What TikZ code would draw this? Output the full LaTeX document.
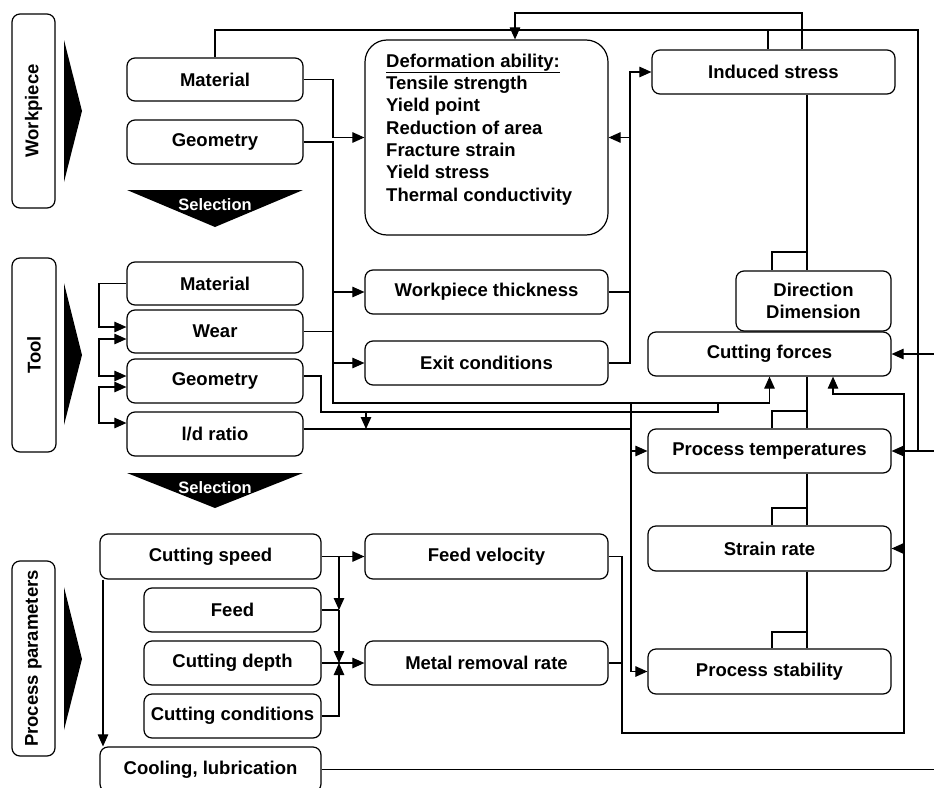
\documentclass[tikz,border=0pt]{standalone}
\usepackage{fontspec}
\setmainfont{Liberation Sans}
\usetikzlibrary{arrows.meta}
\begin{document}
\begin{tikzpicture}[x=1pt,y=-1pt]
\tikzset{
 box/.style={draw, line width=1.2pt, rounded corners=8pt, fill=white, inner sep=0pt,
   font=\bfseries\fontsize{18.5}{22.4}\selectfont, align=center},
 ln/.style={line width=1.1pt},
 arr/.style={ln, -{Triangle[length=12pt,width=10.5pt]}},
 arrb/.style={ln, {Triangle[length=12pt,width=10.5pt]}-{Triangle[length=12pt,width=10.5pt]}},
 sel/.style={text=white, font=\bfseries\fontsize{16.5}{18}\selectfont, inner sep=0pt},
 lab/.style={box, rotate=90},
}
\useasboundingbox (0,0) rectangle (934,787);

% group labels
\node[lab, minimum width=194pt, minimum height=43pt] (gwp) at (33.5,111) {Workpiece};
\node[lab, minimum width=194pt, minimum height=44pt] (gtool) at (34,355) {Tool};
\node[lab, minimum width=195pt, minimum height=43pt] (gpp) at (33.5,658.5) {Process parameters};

% black triangles
\fill (64,40) -- (64,182) -- (82,111) -- cycle;
\fill (64,283) -- (64,425) -- (82,355) -- cycle;
\fill (64,587) -- (64,730) -- (82,659) -- cycle;
\fill (127,190) -- (303,190) -- (215,227) -- cycle;
\node[sel] (sel1) at (215,205) {Selection};
\fill (127,473) -- (303,473) -- (215,508) -- cycle;
\node[sel] (sel2) at (215,488) {Selection};

% workpiece boxes
\node[box, minimum width=176pt, minimum height=43pt] (wpmat) at (215,79.5) {Material};
\node[box, minimum width=176pt, minimum height=44pt] (wpgeo) at (215,142) {Geometry};
\node[box, rounded corners=22pt, minimum width=243pt, minimum height=195pt] (deform) at (486.5,137.5) {};
\node[font=\bfseries\fontsize{18.5}{22.35}\selectfont, align=left, anchor=west, inner sep=0pt] (deftext) at (386,129.5)
  {\underline{Deformation ability:}\\Tensile strength\\Yield point\\Reduction of area\\Fracture strain\\Yield stress\\Thermal conductivity};
\node[box, minimum width=243pt, minimum height=44pt] (induced) at (773.5,72) {Induced stress};

% tool boxes
\node[box, minimum width=176pt, minimum height=43pt] (tmat) at (215,283.5) {Material};
\node[box, minimum width=176pt, minimum height=43pt] (wear) at (215,331.5) {Wear};
\node[box, minimum width=176pt, minimum height=44pt] (tgeo) at (215,381) {Geometry};
\node[box, minimum width=176pt, minimum height=44pt] (ld) at (215,434) {l/d ratio};
\node[box, minimum width=243pt, minimum height=44pt] (wthick) at (486.5,292) {Workpiece thickness};
\node[box, minimum width=243pt, minimum height=44pt] (exitc) at (486.5,363) {Exit conditions};

% right column
\node[box, minimum width=155pt, minimum height=60pt] (dirdim) at (813.5,301) {Direction\\Dimension};
\node[box, minimum width=243pt, minimum height=44pt] (cforces) at (769.5,354) {Cutting forces};
\node[box, minimum width=243pt, minimum height=44pt] (ptemp) at (769.5,451) {Process temperatures};
\node[box, minimum width=243pt, minimum height=45pt] (srate) at (769.5,548.5) {Strain rate};
\node[box, minimum width=243pt, minimum height=45pt] (pstab) at (769.5,671.5) {Process stability};

% process parameter boxes
\node[box, minimum width=221pt, minimum height=45pt] (cspeed) at (210.5,556.5) {Cutting speed};
\node[box, minimum width=177pt, minimum height=44pt] (feed) at (232.5,610) {Feed};
\node[box, minimum width=177pt, minimum height=44pt] (cdepth) at (232.5,663) {Cutting depth};
\node[box, minimum width=177pt, minimum height=44pt] (ccond) at (232.5,716) {Cutting conditions};
\node[box, minimum width=221pt, minimum height=45pt] (cool) at (210.5,769.5) {Cooling, lubrication};
\node[box, minimum width=243pt, minimum height=45pt] (fvel) at (486.5,556.5) {Feed velocity};
\node[box, minimum width=243pt, minimum height=44pt] (mrr) at (486.5,663) {Metal removal rate};

% --- connectors ---
% workpiece material to deformation, top loop
\draw[arr] (wpmat.east) -- (333,79.5) |- (deform.west);
\draw[ln] (wpmat.north) |- (918,30) -- (918,451);
\draw[ln] (768,30) -- ([xshift=-5.5pt]induced.north);
\draw[arr] ([xshift=28.5pt]induced.north) |- (515,13) -- ([xshift=28.5pt]deform.north);
% workpiece geometry & wear
\draw[arr] (wpgeo.east) -| (333,403) -| (cforces.south);
\draw[ln] (wear.east) -- (333,331.5);
\draw[arr] (333,292) -- (wthick.west);
\draw[arr] (333,363) -- (exitc.west);
% tool geometry
\draw[ln] ([yshift=5pt]tgeo.east) -| (321,412) -| (718,403);
\draw[arr] (366,412) -- (366,429);
% l/d ratio
\draw[ln] ([yshift=5pt]ld.east) -- (631,429);
\draw[arr] (631,403) |- (pstab.west);
\draw[arr] (631,451) -- (ptemp.west);
% thickness, exit conditions
\draw[ln] (wthick.east) -- (630,292);
\draw[arr] (exitc.east) -| (630,72) -- (induced.west);
\draw[arr] (630,137.5) -- (deform.east);
% right spine
\draw[ln] ([xshift=33.5pt]induced.south) -- ([xshift=-6.5pt]dirdim.north);
\draw[ln] (807,252) -| ([xshift=-41.5pt]dirdim.north);
\draw[ln] ([xshift=37.5pt]cforces.south) -- ([xshift=37.5pt]ptemp.north);
\draw[ln] (807,411) -| ([xshift=2.5pt]ptemp.north);
\draw[ln] ([xshift=37.5pt]ptemp.south) -- ([xshift=37.5pt]srate.north);
\draw[ln] (807,508) -| ([xshift=2.5pt]srate.north);
\draw[ln] ([xshift=37.5pt]srate.south) -- ([xshift=37.5pt]pstab.north);
\draw[ln] (807,632) -| ([xshift=2.5pt]pstab.north);
% right edge inputs
\draw[arr] (934,354) -- (cforces.east);
\draw[arr] (934,451) -- (ptemp.east);
% feed velocity / mrr loop
\draw[arr] (fvel.east) -| (622,733) -| (904,394) -| ([xshift=63.5pt]cforces.south);
\draw[arr] (904,548.5) -- (srate.east);
\draw[ln] (mrr.east) -- (622,663);
% tool left brackets
\draw[arr] (tmat.west) -| (99,310) |- ([yshift=4.5pt]wear.west);
\draw[arrb] ([yshift=-7.5pt]wear.west) -| (99,360) |- ([yshift=5pt]tgeo.west);
\draw[arrb] ([yshift=-6pt]tgeo.west) -| (99,405) |- ([yshift=11pt]ld.west);
% process parameters
\draw[arr] (cspeed.east) -- (fvel.west);
\draw[arr] (339,556.5) -- (339,610);
\draw[ln] (feed.east) -- (339,610);
\draw[arr] (339,610) -- (339,663);
\draw[arr] (ccond.east) -| (339,663);
\draw[arr] (cdepth.east) -- (mrr.west);
\draw[arr] ([xshift=-107.5pt]cspeed.south) -- ([xshift=-107.5pt]cool.north);
\draw[ln] (cool.east) -- (934,769.5);
\end{tikzpicture}
\end{document}
